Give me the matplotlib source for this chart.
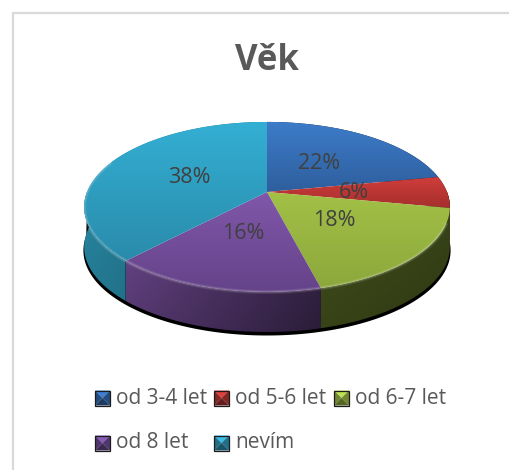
import numpy as np
import matplotlib
matplotlib.use("Agg")
import matplotlib.pyplot as plt
from matplotlib.patches import Polygon
from matplotlib.colors import to_rgb

plt.rcParams['font.family'] = ['Open Sans', 'DejaVu Sans']

# Data
title = "Věk"
categories = ["od 3-4 let", "od 5-6 let", "od 6-7 let", "od 8 let", "nevím"]
values = [22, 6, 18, 16, 38]

# Colours, top of wedge / bottom of wedge
top_light = ["#3d7cc9", "#cf3d3a", "#a2c146", "#8057aa", "#33afd3"]
top_dark = ["#2e5f9e", "#a52f2d", "#8ca83c", "#654389", "#2a8bab"]
side_base = ["#2e5f9e", "#a52f2d", "#9bbb40", "#7a51a0", "#31a7c9"]
# side shading at the left and right end of each wedge wall
side_shade = [(0.40, 0.40), (0.36, 0.36), (0.42, 0.36), (0.80, 0.42), (0.85, 0.62)]

text_grey = "#595959"
label_grey = "#404040"
frame_grey = "#d9d9d9"

# Pie geometry in pixels (tilted disc with a little perspective)
cx, cy = 267, 192
A, B, k = 180, 82.4, 0.176
depth = 40


def project(theta, r=1.0):
    # theta clockwise from the top, radians
    d = 1 + k * r * np.cos(theta)
    return cx + A * r * np.sin(theta) / d, cy - B * r * np.cos(theta) / d


def grad_image(ax, clip, x0, x1, y0, y1, pixels):
    im = ax.imshow(pixels, extent=[x0, x1, y1, y0], aspect="auto",
                   interpolation="bilinear", zorder=clip.get_zorder())
    im.set_clip_path(clip)


def vertical(c_top, c_bot, n=64):
    c_top, c_bot = np.array(to_rgb(c_top)), np.array(to_rgb(c_bot))
    t = np.linspace(0, 1, n)[:, None]
    return (c_top * (1 - t) + c_bot * t)[:, None, :]


def scale(colour, f):
    return tuple(min(1, c * f) for c in to_rgb(colour))


fig = plt.figure(figsize=(5.09, 4.70), dpi=100)
ax = fig.add_axes([0, 0, 1, 1])
ax.set_xlim(0, 509)
ax.set_ylim(470, 0)
ax.axis("off")

# chart frame, only top and left are inside the crop
ax.plot([13, 13, 509], [470, 13, 13], color=frame_grey, lw=1.6, zorder=1,
        solid_joinstyle="miter")

fracs = np.array(values) / sum(values)
edges = np.concatenate([[0], np.cumsum(fracs)]) * 2 * np.pi

# black shadow under the rim
th = np.linspace(np.pi / 2, 3 * np.pi / 2, 200)
sx, sy = project(th)
shadow_low = np.column_stack([cx + (sx - cx) * 1.004, sy + depth + 3.5])
ax.add_patch(Polygon(np.vstack([np.column_stack([sx, sy]), shadow_low[::-1]]),
                     fc="black", ec="none", zorder=2))

# side walls
for i in range(len(values)):
    th = np.linspace(edges[i], edges[i + 1], 120)
    x, y = project(th)
    poly = Polygon(np.vstack([np.column_stack([x, y]),
                              np.column_stack([x, y + depth])[::-1]]),
                   closed=True, fc="none", ec="none", zorder=3)
    ax.add_patch(poly)
    left, right = side_shade[i]
    sx_t = np.linspace(0, 1, 64)[None, :]
    sy_t = np.linspace(1, 0.85, 32)[:, None]
    shade = (left * (1 - sx_t) + right * sx_t) * sy_t
    grad_image(ax, poly, x.min(), x.max(), y.min(), y.max() + depth,
               shade[:, :, None] * np.array(to_rgb(side_base[i])))

# top wedges
for i in range(len(values)):
    th = np.linspace(edges[i], edges[i + 1], 120)
    x, y = project(th)
    pts = np.vstack([[cx, cy], np.column_stack([x, y])])
    poly = Polygon(pts, closed=True, fc="none", ec="none", zorder=4)
    ax.add_patch(poly)
    grad_image(ax, poly, pts[:, 0].min(), pts[:, 0].max(), pts[:, 1].min(), pts[:, 1].max(),
               vertical(top_light[i], top_dark[i]))

# soft light rim along the front of the disc
th = np.linspace(np.pi * 0.62, np.pi * 1.62, 200)
x, y = project(th)
for lw, alpha in [(3.0, 0.08), (1.6, 0.14)]:
    ax.plot(x, y, color="white", alpha=alpha, lw=lw, zorder=5)

# value labels
mids = (edges[:-1] + edges[1:]) / 2
for v, m in zip(values, mids):
    lx, ly = project(m, 0.48)
    ax.text(lx, ly, f"{v}%", ha="center", va="center", fontsize=15.5, color=label_grey, zorder=6)

# title
ax.text(267, 61, title, ha="center", va="center", fontsize=25, fontweight="bold", color=text_grey)

# legend, two rows like the original
legend_x = [95, 214, 334, 95, 214]
legend_y = [398, 398, 398, 443, 443]
size = 15
for i, name in enumerate(categories):
    lx, ly = legend_x[i], legend_y[i] - size / 2
    mid = (lx + size / 2, ly + size / 2)
    # bevelled square: light top, mid sides, dark bottom
    faces = [([(lx, ly), (lx + size, ly), mid], 1.35),
             ([(lx, ly), mid, (lx, ly + size)], 0.8),
             ([(lx + size, ly), mid, (lx + size, ly + size)], 0.8),
             ([(lx, ly + size), (lx + size, ly + size), mid], 0.6)]
    for pts, f in faces:
        ax.add_patch(Polygon(pts, fc=scale(top_dark[i], f), ec="none", zorder=4))
    ax.add_patch(Polygon([(lx, ly), (lx + size, ly), (lx + size, ly + size), (lx, ly + size)],
                         fc="none", ec="#1c1c1c", lw=0.9, zorder=5))
    ax.text(lx + 21, legend_y[i], name, ha="left", va="center", fontsize=15, color=text_grey)

ax.set_xlim(0, 509)
ax.set_ylim(470, 0)
fig.savefig("out.png", dpi=100, facecolor="white")
